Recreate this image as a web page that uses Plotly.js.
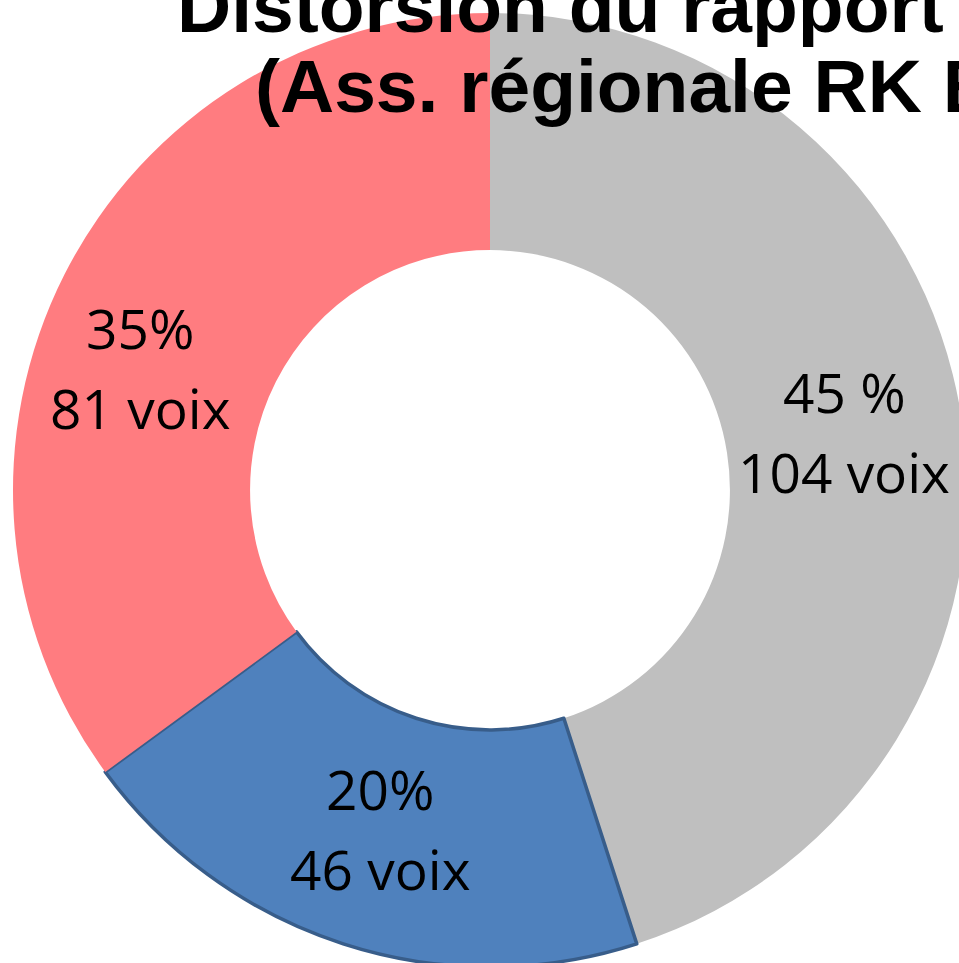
<!DOCTYPE html>
<html>
<head>
<meta charset="utf-8">
<script src="https://cdn.plot.ly/plotly-3.0.1.min.js"></script>
<style>
html, body { margin: 0; padding: 0; overflow: hidden; background: #ffffff; }
#chart { width: 1000px; height: 1000px; }
</style>
</head>
<body>
<div id="chart"></div>
<script>
// Data
const categories = ["Groupe A", "Groupe B", "Groupe C"];
const votes = [104, 46, 81];
const percentLabels = ["45 %", "20%", "35%"];
const voteLabels = ["104 voix", "46 voix", "81 voix"];
const sliceColors = ["#BFBFBF", "#4F81BD", "#FF7C80"];
const titleLine1 = "Distorsion du rapport";
const titleLine2 = "(Ass. régionale RK E";

// Styling / placement (not data)
const labelOffsets = [[0, 0], [0, 0], [-30, 43]]; // px nudges of label blocks
const W = 1000, H = 1000;
const cx = 490, cy = 490, R = 477, HOLE = 0.503;

const trace = {
  type: "pie",
  labels: categories,
  values: votes,
  textinfo: "none",
  sort: false,
  direction: "clockwise",
  rotation: 0,
  hole: HOLE,
  showlegend: false,
  hoverinfo: "skip",
  marker: {
    colors: sliceColors,
    line: { color: ["rgba(0,0,0,0)", "#385D8A", "rgba(0,0,0,0)"], width: [0, 3.5, 0] }
  },
  domain: {
    x: [(cx - R) / W, (cx + R) / W],
    y: [1 - (cy + R) / H, 1 - (cy - R) / H]
  }
};

// Labels placed at each slice's mid-angle on the ring, computed from the data
const total = votes.reduce((a, b) => a + b, 0);
const rMid = R * (1 + HOLE) / 2;
const labelFont = { family: "Open Sans", size: 55, color: "#000000" };
const annotations = [];
let cum = 0;
votes.forEach((v, i) => {
  const mid = (cum + v / 2) / total * 2 * Math.PI;
  cum += v;
  const px = cx + rMid * Math.sin(mid) + labelOffsets[i][0];
  const py = cy - rMid * Math.cos(mid) + labelOffsets[i][1];
  annotations.push({
    text: percentLabels[i], xref: "paper", yref: "paper",
    x: px / W, y: 1 - (py - 43) / H, xanchor: "center", yanchor: "middle",
    showarrow: false, borderpad: 0, font: labelFont
  });
  annotations.push({
    text: voteLabels[i], xref: "paper", yref: "paper",
    x: px / W, y: 1 - (py + 37) / H, xanchor: "center", yanchor: "middle",
    showarrow: false, borderpad: 0, font: labelFont
  });
});

const titleFont = { family: "Liberation Sans", size: 75, color: "#000000", weight: "bold" };
annotations.push({
  text: titleLine1, xref: "paper", yref: "paper",
  x: 176 / W, y: 1 - 49 / H, xanchor: "left", yanchor: "bottom",
  showarrow: false, borderpad: 0, font: titleFont
});
annotations.push({
  text: titleLine2, xref: "paper", yref: "paper",
  x: 254 / W, y: 1 - 129 / H, xanchor: "left", yanchor: "bottom",
  showarrow: false, borderpad: 0, font: titleFont
});

const layout = {
  width: W,
  height: H,
  margin: { l: 0, r: 0, t: 0, b: 0 },
  paper_bgcolor: "#ffffff",
  plot_bgcolor: "#ffffff",
  showlegend: false,
  annotations: annotations
};

Plotly.newPlot("chart", [trace], layout, { staticPlot: true, displayModeBar: false });
</script>
</body>
</html>
